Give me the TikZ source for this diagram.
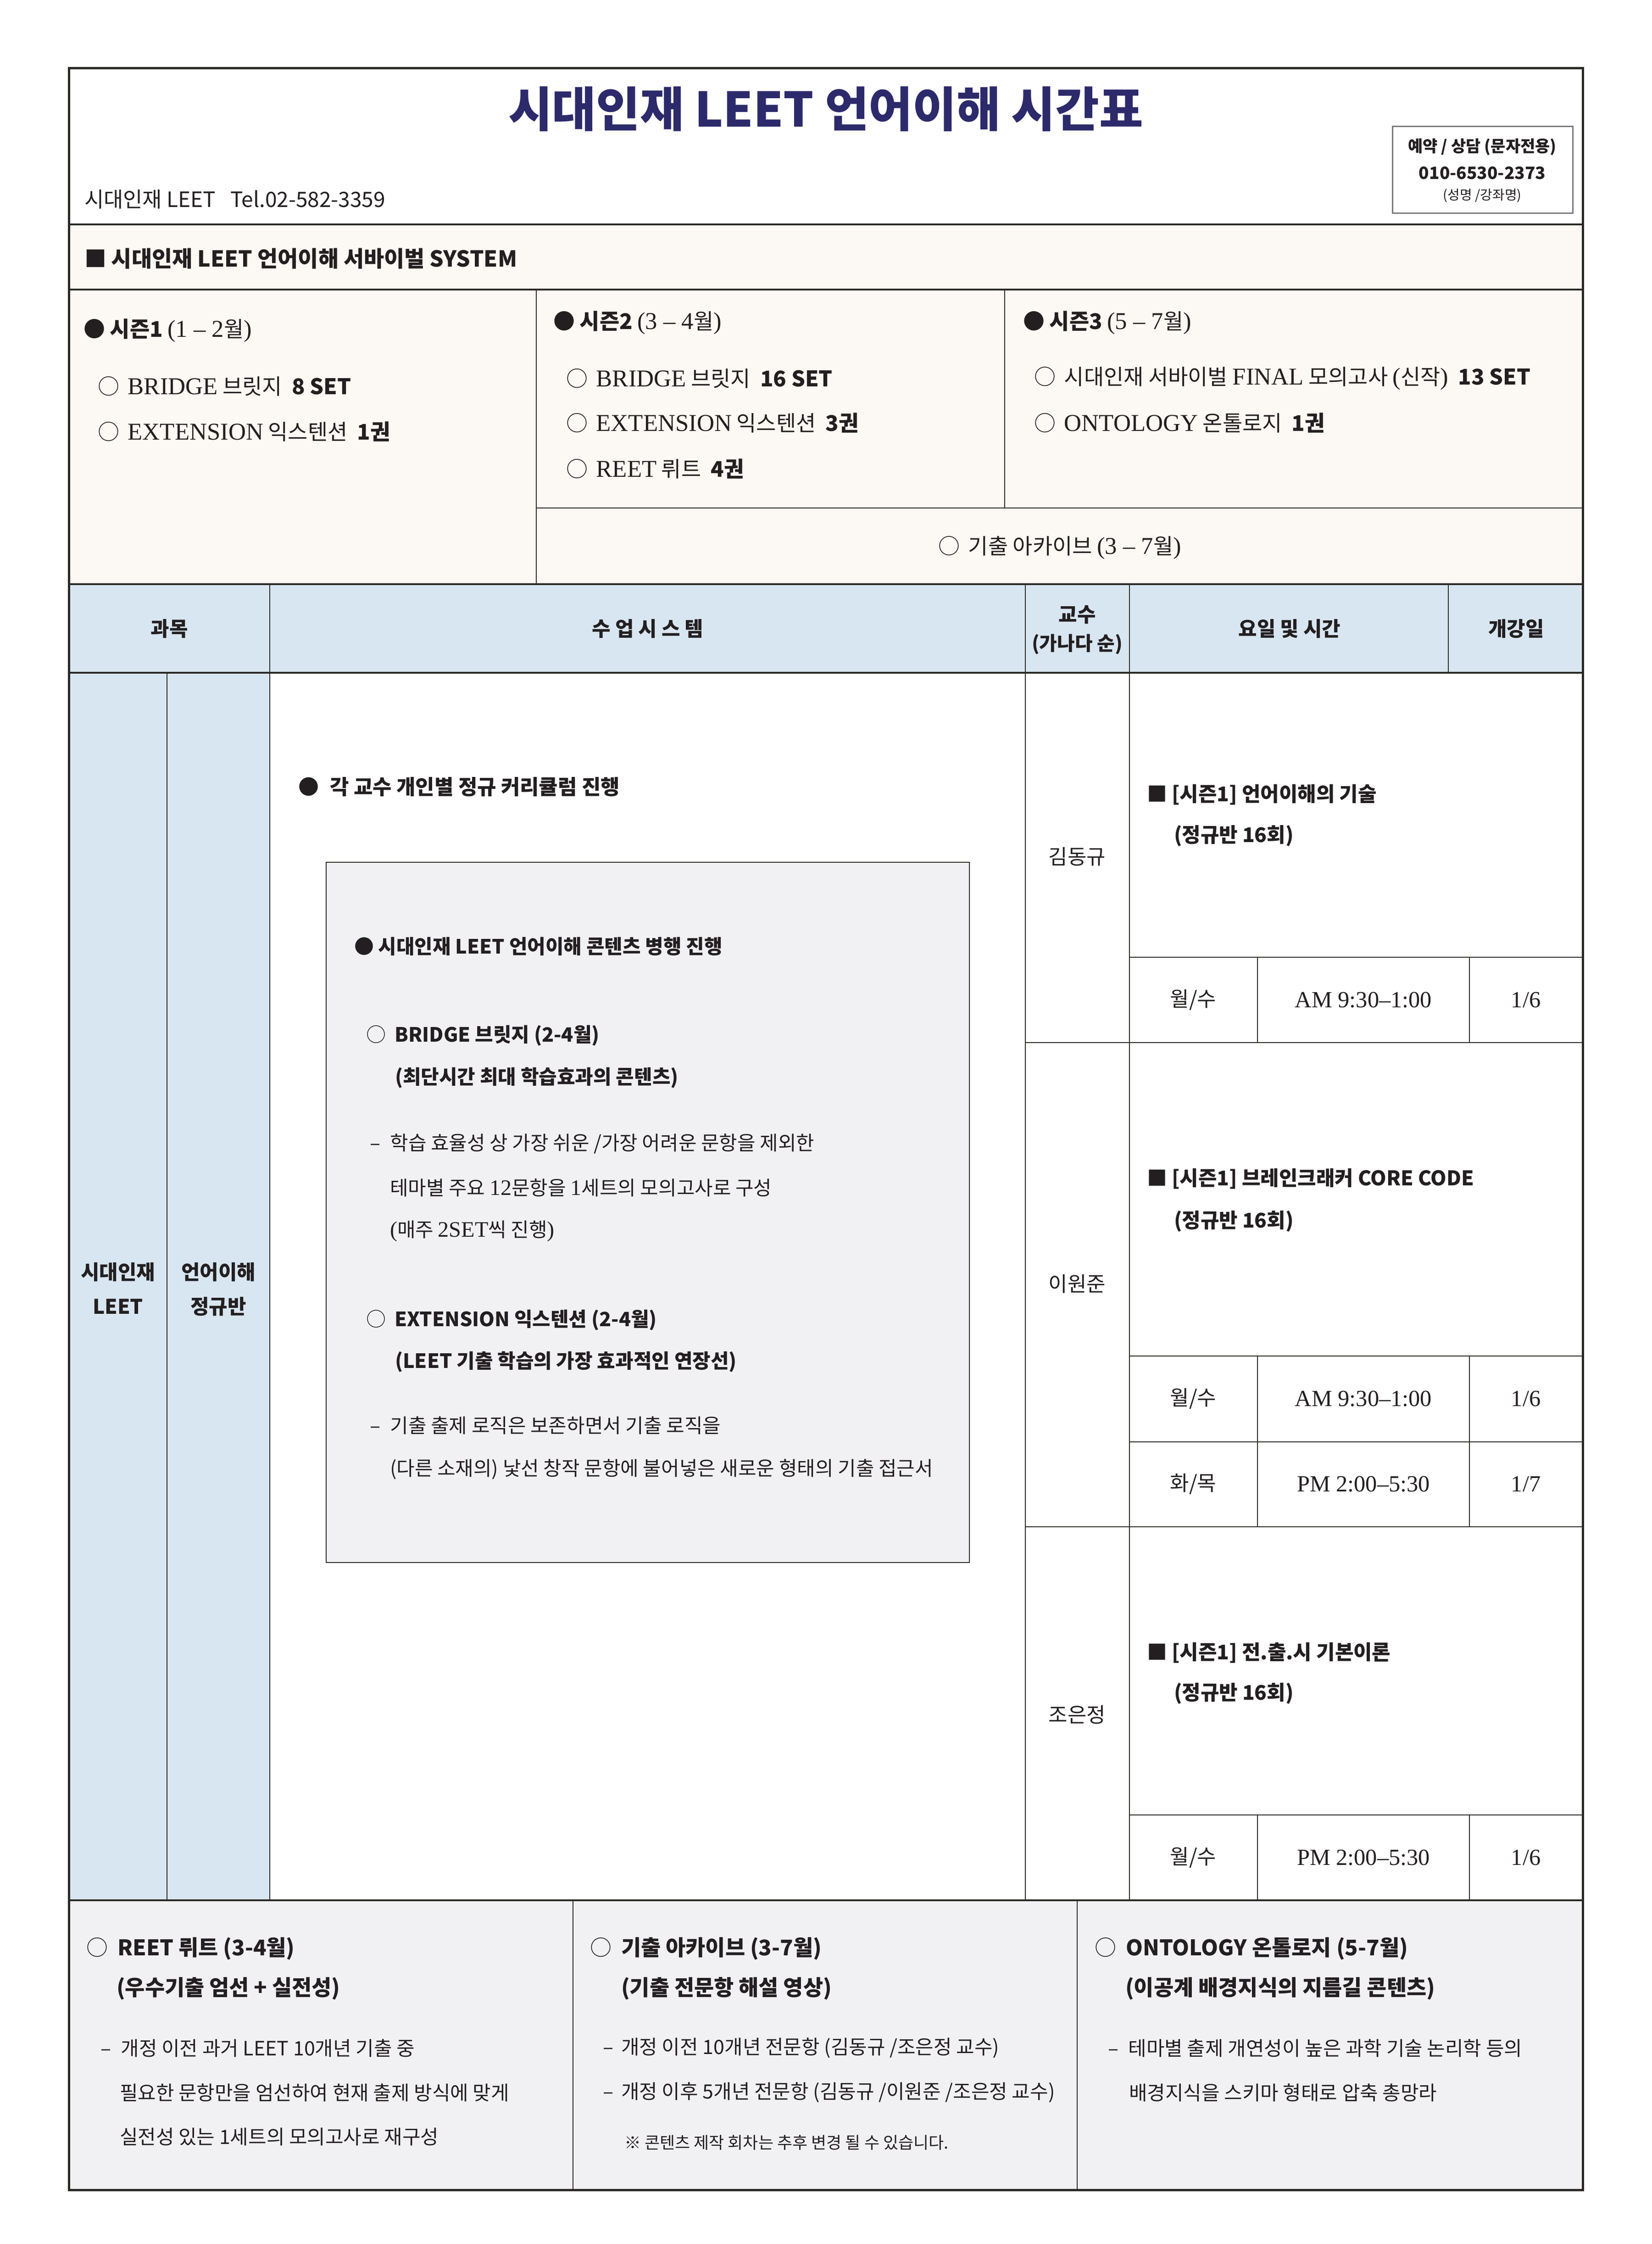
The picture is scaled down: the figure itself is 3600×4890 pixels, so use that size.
\documentclass[tikz,border=0pt]{standalone}
\usepackage{fontspec}
\setmainfont{Noto Sans CJK KR}
\newfontfamily\lser[Scale=1.12]{Liberation Serif}
\newcommand\fpx[1]{\fontsize{\fpeval{#1/4}}{\fpeval{#1/4*1.25}}\selectfont}
\newcommand\sr[1]{{\lser #1}}
\definecolor{ink}{HTML}{231F20}
\definecolor{rule}{HTML}{2A2925}
\definecolor{navy}{HTML}{2C2A6B}
\definecolor{cream}{HTML}{FCF8F3}
\definecolor{hblue}{HTML}{D8E6F1}
\definecolor{lgray}{HTML}{F1F1F3}
\definecolor{pagebg}{HTML}{FFFFFF}
\definecolor{boxgray}{HTML}{7A7A7A}
\tikzset{
  outer/.style={draw=rule,line width=1.25pt},
  major/.style={draw=rule,line width=0.9pt},
  inner/.style={draw=rule,line width=0.65pt},
  thin/.style={draw=rule,line width=0.4pt},
  ttl/.style={font=\fpx{104}\bfseries,text=navy},
  hdr/.style={font=\fpx{44}\bfseries},
  sea/.style={anchor=west,font=\fpx{47}},
  midb/.style={anchor=west,font=\fpx{43}\bfseries},
  midr/.style={anchor=west,font=\fpx{43}},
  crs/.style={anchor=west,font=\fpx{44}\bfseries},
  cell/.style={font=\fpx{45}},
  botb/.style={anchor=west,font=\fpx{47}\bfseries},
  botr/.style={anchor=west,font=\fpx{43}},
}
\begin{document}
\begin{tikzpicture}[x=0.25pt,y=-0.25pt,every node/.style={inner sep=0pt,outer sep=0pt,text=ink}]
\useasboundingbox (0,0) rectangle (3600,4890);
% ---------- fills ----------
\fill[pagebg] (0,0) rectangle (3600,4890);
\fill[white] (150,149) rectangle (3450,489);
\fill[cream] (150,489) rectangle (3450,1273);
\fill[hblue] (150,1273) rectangle (3450,1466);
\fill[hblue] (150,1466) rectangle (588,4141);
\fill[lgray] (150,4141) rectangle (3450,4772);
\draw[inner,fill=lgray] (711,1879) rectangle (2113,3405);
\draw[draw=boxgray,line width=0.75pt,fill=white] (3035,276) rectangle (3428,465);
% ---------- rules ----------
\draw[major] (150,489) -- (3450,489);
\draw[major] (150,631) -- (3450,631);
\draw[major] (150,1273) -- (3450,1273);
\draw[major] (150,1466) -- (3450,1466);
\draw[major] (150,4141) -- (3450,4141);
\draw[inner] (1169,631) -- (1169,1273);
\draw[inner] (2190,631) -- (2190,1107);
\draw[inner] (1169,1107) -- (3450,1107);
\draw[thin] (588,1273) -- (588,1466);
\draw[thin] (2235,1273) -- (2235,1466);
\draw[thin] (2462,1273) -- (2462,1466);
\draw[thin] (3157,1273) -- (3157,1466);
\draw[inner] (364,1466) -- (364,4141);
\draw[inner] (588,1466) -- (588,4141);
\draw[inner] (2235,1466) -- (2235,4141);
\draw[inner] (2462,1466) -- (2462,4141);
\draw[inner] (2462,2086) -- (3450,2086);
\draw[inner] (2235,2272) -- (3450,2272);
\draw[inner] (2462,2955) -- (3450,2955);
\draw[inner] (2462,3142) -- (3450,3142);
\draw[inner] (2235,3327) -- (3450,3327);
\draw[inner] (2462,3955) -- (3450,3955);
\draw[inner] (2741,2086) -- (2741,2272);
\draw[inner] (3203,2086) -- (3203,2272);
\draw[inner] (2741,2955) -- (2741,3327);
\draw[inner] (3203,2955) -- (3203,3327);
\draw[inner] (2741,3955) -- (2741,4141);
\draw[inner] (3203,3955) -- (3203,4141);
\draw[thin] (1249,4141) -- (1249,4772);
\draw[thin] (2348,4141) -- (2348,4772);
\draw[outer] (150,149) rectangle (3450,4772);
% ---------- header ----------
\node[ttl] (title) at (1800,238) {시대인재 LEET 언어이해 시간표};
\node[anchor=west,font=\fpx{46}] (tel) at (184,434) {시대인재 LEET\hspace{0.7em}Tel.02-582-3359};
\node[font=\fpx{35}\bfseries] (c1) at (3231,320) {예약 / 상담 (문자전용)};
\node[font=\fpx{37}\bfseries] (c2) at (3231,377) {010-6530-2373};
\node[font=\fpx{29}] (c3) at (3231,426) {(성명 /강좌명)};
\node[anchor=west,font=\fpx{48}\bfseries] (sys) at (184,564) {■ 시대인재 LEET 언어이해 서바이벌 SYSTEM};
% ---------- seasons ----------
\node[sea] (s1) at (182,720) {{\bfseries ● 시즌1} \sr{(1 – 2}월\sr{)}};
\node[sea] (s1a) at (213,842) {○\hspace{0.4em}\sr{BRIDGE} 브릿지 \ {\bfseries 8 SET}};
\node[sea] (s1b) at (213,941) {○\hspace{0.4em}\sr{EXTENSION} 익스텐션 \ {\bfseries 1권}};
\node[sea] (s2) at (1206,703) {{\bfseries ● 시즌2} \sr{(3 – 4}월\sr{)}};
\node[sea] (s2a) at (1234,825) {○\hspace{0.4em}\sr{BRIDGE} 브릿지 \ {\bfseries 16 SET}};
\node[sea] (s2b) at (1234,922) {○\hspace{0.4em}\sr{EXTENSION} 익스텐션 \ {\bfseries 3권}};
\node[sea] (s2c) at (1234,1022) {○\hspace{0.4em}\sr{REET} 뤼트 \ {\bfseries 4권}};
\node[sea] (s3) at (2230,703) {{\bfseries ● 시즌3} \sr{(5 – 7}월\sr{)}};
\node[sea] (s3a) at (2254,825) {○\hspace{0.4em}시대인재 서바이벌 \sr{FINAL} 모의고사 \sr{(}신작\sr{)} \ {\bfseries 13 SET}};
\node[sea] (s3b) at (2254,922) {○\hspace{0.4em}\sr{ONTOLOGY} 온톨로지 \ {\bfseries 1권}};
\node[sea,anchor=center] (arc) at (2310,1194) {○\hspace{0.4em}기출 아카이브 \sr{(3 – 7}월\sr{)}};
% ---------- table header ----------
\node[hdr] (h1) at (369,1370) {과목};
\node[hdr] (h2) at (1412,1370) {수 업 시 스 템};
\node[hdr] (h3a) at (2348,1340) {교수};
\node[hdr,font=\fpx{42}\bfseries] (h3b) at (2348,1404) {(가나다 순)};
\node[hdr] (h4) at (2811,1370) {요일 및 시간};
\node[hdr] (h5) at (3305,1370) {개강일};
% ---------- left columns ----------
\node[hdr] (l1a) at (257,2772) {시대인재};
\node[hdr] (l1b) at (257,2847) {LEET};
\node[hdr] (l2a) at (476,2772) {언어이해};
\node[hdr] (l2b) at (476,2847) {정규반};
% ---------- middle ----------
\node[anchor=west,font=\fpx{45}\bfseries] (m0) at (650,1715) {●\hspace{0.55em}각 교수 개인별 정규 커리큘럼 진행};
\node[midb] (m1) at (772,2062) {● 시대인재 LEET 언어이해 콘텐츠 병행 진행};
\node[midb] (m2) at (798,2257) {{\mdseries ○}\hspace{0.45em}BRIDGE 브릿지 (2-4월)};
\node[midb] (m3) at (861,2349) {(최단시간 최대 학습효과의 콘텐츠)};
\node[midr] (m4) at (806,2492) {–\hspace{0.5em}학습 효율성 상 가장 쉬운 /가장 어려운 문항을 제외한};
\node[midr] (m5) at (850,2588) {테마별 주요 \sr{12}문항을 \sr{1}세트의 모의고사로 구성};
\node[midr] (m6) at (850,2683) {\sr{(}매주 \sr{2SET}씩 진행\sr{)}};
\node[midb] (m7) at (798,2877) {{\mdseries ○}\hspace{0.45em}EXTENSION 익스텐션 (2-4월)};
\node[midb] (m8) at (861,2968) {(LEET 기출 학습의 가장 효과적인 연장선)};
\node[midr] (m9) at (806,3106) {–\hspace{0.5em}기출 출제 로직은 보존하면서 기출 로직을};
\node[midr] (m10) at (850,3202) {(다른 소재의) 낯선 창작 문항에 불어넣은 새로운 형태의 기출 접근서};
% ---------- professors ----------
\node[cell] (p1) at (2348,1867) {김동규};
\node[cell] (p2) at (2348,2798) {이원준};
\node[cell] (p3) at (2348,3737) {조은정};
\node[crs] (k1) at (2500,1732) {■ [시즌1] 언어이해의 기술};
\node[crs] (k1b) at (2559,1821) {(정규반 16회)};
\node[crs] (k2) at (2500,2569) {■ [시즌1] 브레인크래커 CORE CODE};
\node[crs] (k2b) at (2559,2661) {(정규반 16회)};
\node[crs] (k3) at (2500,3602) {■ [시즌1] 전.출.시 기본이론};
\node[crs] (k3b) at (2559,3690) {(정규반 16회)};
% time rows
\node[cell] (r1a) at (2601,2179) {월/수};
\node[cell] (r1b) at (2972,2179) {\sr{AM 9:30–1:00}};
\node[cell] (r1c) at (3326,2179) {\sr{1/6}};
\node[cell] (r2a) at (2601,3048) {월/수};
\node[cell] (r2b) at (2972,3048) {\sr{AM 9:30–1:00}};
\node[cell] (r2c) at (3326,3048) {\sr{1/6}};
\node[cell] (r3a) at (2601,3234) {화/목};
\node[cell] (r3b) at (2972,3234) {\sr{PM 2:00–5:30}};
\node[cell] (r3c) at (3326,3234) {\sr{1/7}};
\node[cell] (r4a) at (2601,4048) {월/수};
\node[cell] (r4b) at (2972,4048) {\sr{PM 2:00–5:30}};
\node[cell] (r4c) at (3326,4048) {\sr{1/6}};
% ---------- bottom ----------
\node[botb] (b1) at (188,4246) {{\mdseries ○}\hspace{0.45em}REET 뤼트 (3-4월)};
\node[botb] (b1b) at (254,4333) {(우수기출 엄선 + 실전성)};
\node[botr] (b1c) at (219,4463) {–\hspace{0.5em}개정 이전 과거 LEET 10개년 기출 중};
\node[botr] (b1d) at (261,4560) {필요한 문항만을 엄선하여 현재 출제 방식에 맞게};
\node[botr] (b1e) at (261,4656) {실전성 있는 1세트의 모의고사로 재구성};
\node[botb] (b2) at (1286,4246) {{\mdseries ○}\hspace{0.45em}기출 아카이브 (3-7월)};
\node[botb] (b2b) at (1354,4333) {(기출 전문항 해설 영상)};
\node[botr] (b2c) at (1314,4463) {–\hspace{0.4em}개정 이전 10개년 전문항 (김동규 /조은정 교수)};
\node[botr] (b2d) at (1314,4560) {–\hspace{0.4em}개정 이후 5개년 전문항 (김동규 /이원준 /조은정 교수)};
\node[botr,font=\fpx{36}] (b2e) at (1361,4669) {※ 콘텐츠 제작 회차는 추후 변경 될 수 있습니다.};
\node[botb] (b3) at (2386,4246) {{\mdseries ○}\hspace{0.45em}ONTOLOGY 온톨로지 (5-7월)};
\node[botb] (b3b) at (2453,4333) {(이공계 배경지식의 지름길 콘텐츠)};
\node[botr] (b3c) at (2415,4463) {–\hspace{0.5em}테마별 출제 개연성이 높은 과학 기술 논리학 등의};
\node[botr] (b3d) at (2461,4560) {배경지식을 스키마 형태로 압축 총망라};
\end{tikzpicture}
\end{document}
